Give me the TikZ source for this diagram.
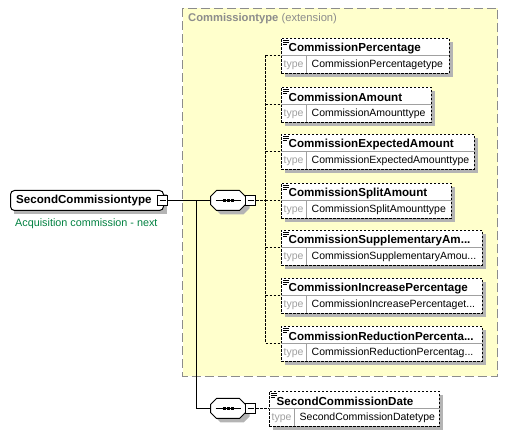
\documentclass[tikz,border=0pt]{standalone}
\usepackage{fontspec}
\setmainfont{Liberation Sans}
\definecolor{extfill}{HTML}{FFFFCC}
\definecolor{extline}{HTML}{8C8C8C}
\definecolor{shadowc}{HTML}{B4B4B4}
\definecolor{typegray}{HTML}{A0A0A0}
\definecolor{greentxt}{HTML}{008040}
\tikzset{
  elembox/.style={draw=black, dash pattern=on 2.5pt off 1.5pt, fill=white, inner sep=0pt, line width=1pt},
  hdrtext/.style={anchor=west, inner sep=0pt, font=\bfseries\fontsize{11.6}{13}\selectfont},
  typelbl/.style={anchor=west, inner sep=0pt, text=typegray, font=\fontsize{10.5}{12}\selectfont},
  typetext/.style={anchor=west, inner sep=0pt, font=\fontsize{10.5}{12}\selectfont},
  minusbox/.style={draw=black, fill=white, minimum size=10pt, inner sep=0pt, line width=1pt},
  conn/.style={line width=1pt},
  dconn/.style={line width=1pt, dash pattern=on 2.5pt off 1.5pt},
}
\newcommand{\xelem}[6]{%
  \fill[shadowc] (#2+4,#3+4) rectangle (#2+#4+4,#3+39);
  \node[elembox, minimum width=#4pt, minimum height=35pt, anchor=north west] (#1) at (#2,#3) {};
  \draw[typegray, line width=1pt] (#2,#3+18) -- (#2+#4,#3+18);
  \draw[typegray, line width=1pt] (#2+26,#3+18) -- (#2+26,#3+35);
  \draw[line width=0.8pt] (#2+2.5,#3+2.5) -- (#2+8,#3+2.5) (#2+2.5,#3+4.5) -- (#2+8,#3+4.5) (#2+2.5,#3+6.5) -- (#2+6,#3+6.5);
  \node[hdrtext] (#1h) at (#2+8,#3+10.5) {#5};
  \node[typelbl] (#1l) at (#2+3,#3+27) {type};
  \node[typetext] (#1t) at (#2+31,#3+27) {#6};
}
\newcommand{\xseq}[3]{% name, left x, center y
  \fill[shadowc] (#2+4+6,#3-10+4) -- (#2+4+29,#3-10+4) -- (#2+4+35,#3-4+4) -- (#2+4+35,#3+4+4) -- (#2+4+29,#3+10+4) -- (#2+4+6,#3+10+4) -- (#2+4,#3+4+4) -- (#2+4,#3-4+4) -- cycle;
  \draw[fill=white, line width=1pt] (#2+6,#3-10) -- (#2+29,#3-10) -- (#2+35,#3-4) -- (#2+35,#3+4) -- (#2+29,#3+10) -- (#2+6,#3+10) -- (#2,#3+4) -- (#2,#3-4) -- cycle;
  \coordinate (#1) at (#2,#3);
  \draw[line width=1pt] (#2+5,#3) -- (#2+30,#3);
  \fill (#2+12,#3-1.5) rectangle (#2+15,#3+1.5);
  \fill (#2+16,#3-1.5) rectangle (#2+19,#3+1.5);
  \fill (#2+20,#3-1.5) rectangle (#2+23,#3+1.5);
  \node[minusbox] (#1m) at (#2+40,#3) {};
  \draw[line width=1pt] (#2+37,#3) -- (#2+43,#3);
}
\begin{document}
\begin{tikzpicture}[x=1pt,y=-1pt]
\useasboundingbox (0,0) rectangle (509,435);
% extension box
\draw[extline, fill=extfill, line width=1pt, dash pattern=on 9pt off 4pt] (182.5,8.5) rectangle (497.5,376.5);
\node[anchor=west, inner sep=0pt, text=extline, font=\fontsize{11.2}{12}\selectfont] (exttitle) at (188,19) {\textbf{Commissiontype} (extension)};

% root element
\fill[shadowc] (14,194) rectangle (167,214);
\draw[fill=white, line width=1pt, rounded corners=4pt] (10.5,190.5) rectangle (163.5,210.5);
\node[anchor=west, inner sep=0pt, font=\bfseries\fontsize{11.6}{13}\selectfont] (root) at (16,200.5) {SecondCommissiontype};
\node[minusbox] (rootm) at (162.5,200.5) {};
\draw[line width=1pt] (159.5,200.5) -- (165.5,200.5);
\node[anchor=west, inner sep=0pt, text=greentxt, font=\fontsize{10.8}{12}\selectfont] (doc) at (15,224) {Acquisition commission - next};

% sequences
\xseq{seqA}{210.5}{200.5}
\xseq{seqB}{210.5}{408.5}

\coordinate (split) at (196.5,200.5);
\draw[conn] (rootm.east) -- (seqA);
\draw[conn] (split) |- (seqB);

% elements
\xelem{e1}{280.5}{38}{168}{CommissionPercentage}{CommissionPercentagetype}
\xelem{e2}{280.5}{87}{150}{CommissionAmount}{CommissionAmounttype}
\xelem{e3}{280.5}{134}{193}{CommissionExpectedAmount}{CommissionExpectedAmounttype}
\xelem{e4}{280.5}{183}{170}{CommissionSplitAmount}{CommissionSplitAmounttype}
\xelem{e5}{280.5}{230}{201}{CommissionSupplementaryAm...}{CommissionSupplementaryAmou...}
\xelem{e6}{280.5}{278}{201}{CommissionIncreasePercentage}{CommissionIncreasePercentaget...}
\xelem{e7}{280.5}{326}{201}{CommissionReductionPercenta...}{CommissionReductionPercentag...}
\xelem{e8}{268.5}{391}{170}{SecondCommissionDate}{SecondCommissionDatetype}

% dashed connectors
\coordinate (bus) at (265.5,200.5);
\draw[dconn] (seqAm.east) -- (bus);
\draw[dconn] (265.5,55.5) -- (265.5,343.5);
\foreach \e in {e1,e2,e3,e4,e5,e6,e7}{
  \draw[dconn] (\e.west -| bus) -- (\e.west);
}
\draw[dconn] (seqBm.east) -- (seqBm.east -| e8.west);
\end{tikzpicture}
\end{document}
